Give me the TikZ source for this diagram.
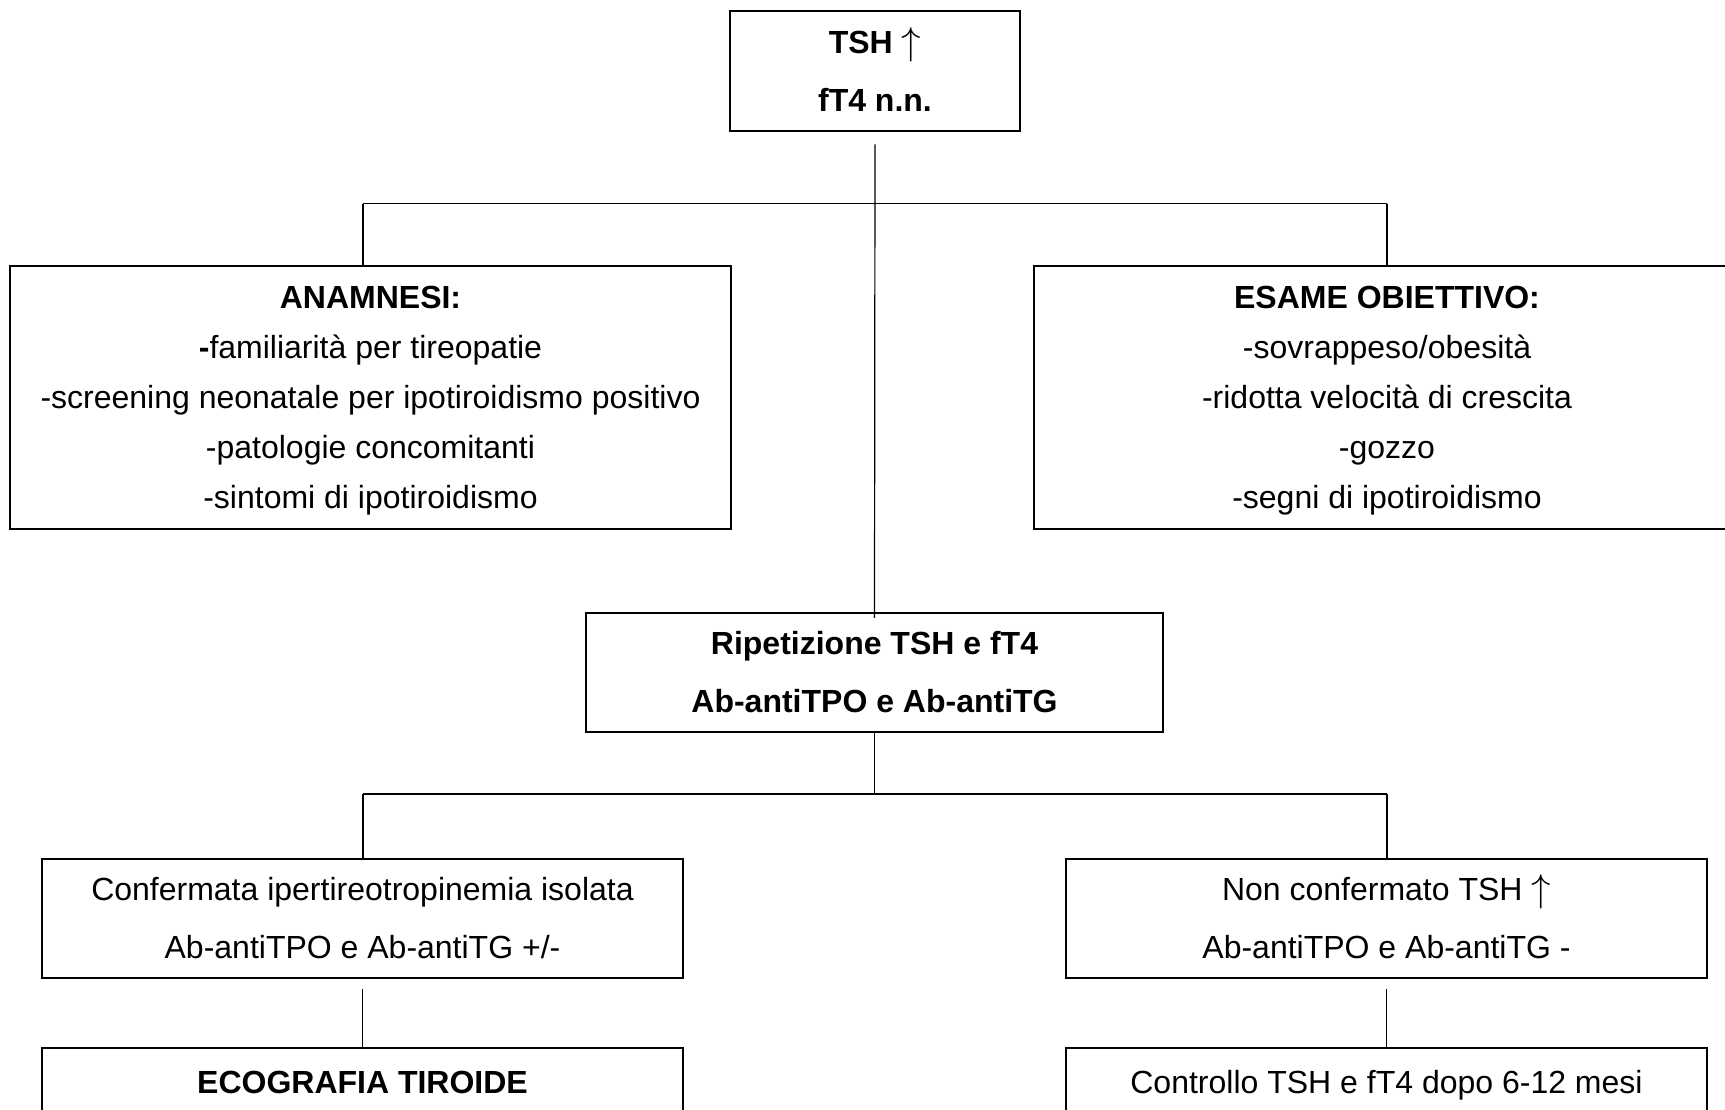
\documentclass[tikz,border=0pt]{standalone}
\usepackage{graphicx}
\usepackage{fontspec}
\setmainfont{Liberation Sans}
\newcommand{\uparr}{\smash{\raisebox{-1pt}{\resizebox{!}{27pt}{$\uparrow$}}}}
\newcommand{\topstrut}{\rule{0pt}{29pt}}
\begin{document}
\begin{tikzpicture}[x=1pt,y=-1pt,
  box/.style={draw=black, line width=2.5pt, rectangle, inner sep=0pt, align=center},
  five/.style={font=\fontsize{32}{50}\selectfont},
  two/.style={font=\fontsize{32}{58}\selectfont},
  conn/.style={draw=black, line width=1.2pt}]
\useasboundingbox (0,0) rectangle (1725,1109);
\clip (0,0) rectangle (1725,1109);
\fill[white] (0,0) rectangle (1725,1109);

\node[box,two,minimum width=290pt,minimum height=120pt] (top) at (875,71)
  {\textbf{TSH \uparr}\\\textbf{fT4 n.n.}};
\node[box,five,minimum width=721pt,minimum height=263pt] (anam) at (370.5,397.5)
  {\topstrut\textbf{ANAMNESI:}\\\textbf{-}familiarità per tireopatie\\-screening neonatale per ipotiroidismo positivo\\-patologie concomitanti\\-sintomi di ipotiroidismo};
\node[box,five,minimum width=706pt,minimum height=263pt] (esame) at (1387,397.5)
  {\topstrut\textbf{ESAME OBIETTIVO:}\\-sovrappeso/obesità\\-ridotta velocità di crescita\\-gozzo\\-segni di ipotiroidismo};
\node[box,two,minimum width=577pt,minimum height=119pt] (rip) at (874.5,672.5)
  {\textbf{Ripetizione TSH e fT4}\\\textbf{Ab-antiTPO e Ab-antiTG}};
\node[box,two,minimum width=641pt,minimum height=119pt] (conf) at (362.5,918.5)
  {Confermata ipertireotropinemia isolata\\Ab-antiTPO e Ab-antiTG +/-};
\node[box,two,minimum width=641pt,minimum height=119pt] (nonc) at (1386.5,918.5)
  {Non confermato TSH \uparr\\Ab-antiTPO e Ab-antiTG -};
\node[box,two,minimum width=641pt,minimum height=119pt] (eco) at (362.5,1107.5)
  {\topstrut\textbf{ECOGRAFIA TIROIDE}\\\mbox{}};
\node[box,two,minimum width=641pt,minimum height=119pt] (ctrl) at (1386.5,1107.5)
  {\topstrut Controllo TSH e fT4 dopo 6-12 mesi\\\mbox{}};

\coordinate (bl1) at (363,203.5);
\coordinate (br1) at (1387,203.5);
\coordinate (bl2) at (363,794);
\coordinate (br2) at (1387,794);

\draw[conn] ([yshift=-12pt]top.south) -- ([yshift=-6pt]rip.north);
\draw[conn] (bl1) -- (br1);
\draw[conn] (bl1) -- (bl1 |- anam.north);
\draw[conn] (br1) -- (esame.north);
\draw[conn] (rip.south) -- (rip.south |- bl2);
\draw[conn] (bl2) -- (br2);
\draw[conn] (bl2) -- (bl2 |- conf.north);
\draw[conn] (br2) -- (br2 |- nonc.north);
\draw[conn] ([yshift=-10pt]conf.south) -- (eco.north);
\draw[conn] ([yshift=-10pt]nonc.south) -- (ctrl.north);
\end{tikzpicture}
\end{document}
